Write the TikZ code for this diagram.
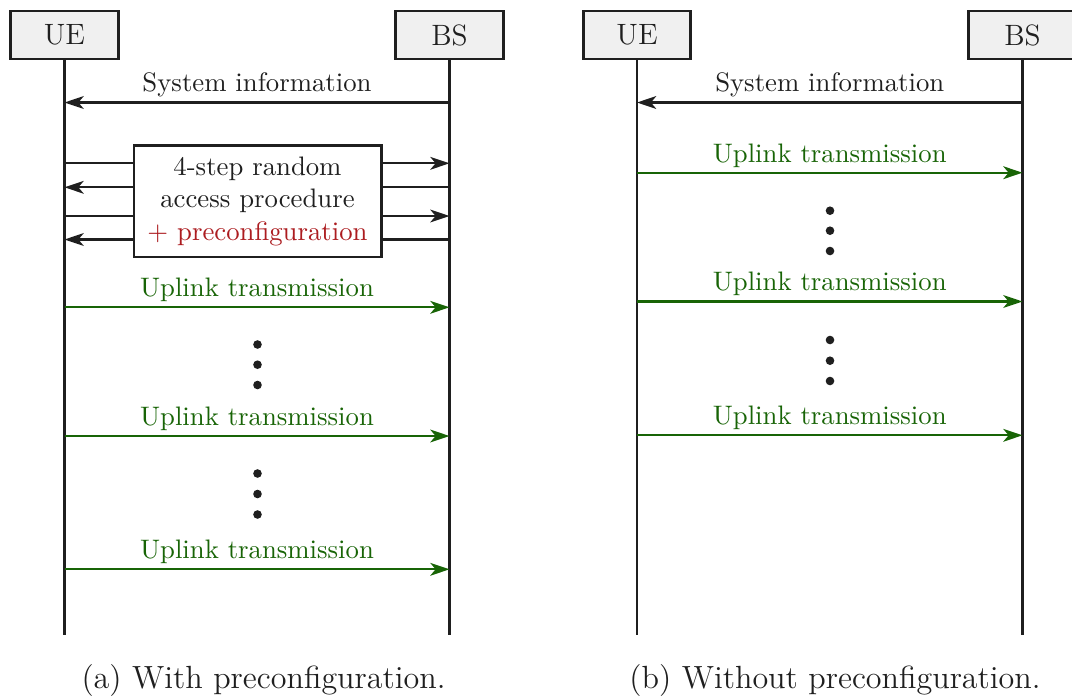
\documentclass[tikz,border=0pt]{standalone}
\usetikzlibrary{arrows.meta}
\definecolor{upgreen}{RGB}{24,100,6}
\definecolor{prered}{RGB}{172,28,32}
\definecolor{hdrfill}{gray}{0.94}
\definecolor{ink}{gray}{0.12}

\begin{document}
\begin{tikzpicture}[x=0.374pt, y=-0.374pt,
  every node/.style={text=ink},
  hdr/.style={draw=ink, line width=1pt, fill=hdrfill, inner sep=0pt,
    minimum width=40.2pt, minimum height=18pt,
    font=\fontsize{11}{13}\selectfont},
  lifeline/.style={draw=ink, line width=0.8pt},
  wire/.style={draw=ink, line width=0.8pt},
  msg/.style={wire, -{Stealth[length=7.2pt, width=4.8pt, inset=2pt]}},
  upmsg/.style={msg, draw=upgreen},
  lbl/.style={midway, anchor=base, yshift=3.95pt, inner sep=0pt,
    font=\fontsize{10}{12}\selectfont},
  uplbl/.style={lbl, text=upgreen},
  procbox/.style={draw=ink, line width=0.9pt, fill=white, align=center,
    minimum width=92.6pt, minimum height=41.7pt, inner sep=0pt,
    font=\fontsize{10}{12.2}\selectfont},
  dot/.style={fill=ink},
  subcaption/.style={anchor=base, inner sep=0pt, font=\fontsize{12}{14}\selectfont}
]
\useasboundingbox (0,0) rectangle (1072,697);

% ---------- (a) with preconfiguration ----------
\node[hdr] (UEa) at (64.5,35) {UE};
\node[hdr] (BSa) at (449.5,35) {BS};
\coordinate (bottom) at (0,635);
\draw[lifeline] (UEa.south) -- (UEa |- bottom);
\draw[lifeline] (BSa.south) -- (BSa |- bottom);

\coordinate (a0) at (0,102.5);
\draw[msg] (BSa |- a0) -- node[lbl] {System information} (UEa |- a0);

\node[procbox] (rap) at (257.5,201.2)
  {4-step random\\access procedure\\\textcolor{prered}{$+$ preconfiguration}};

\coordinate (r1) at (0,163.3);
\coordinate (r2) at (0,187.3);
\coordinate (r3) at (0,216);
\coordinate (r4) at (0,239.5);
\draw[wire] (UEa |- r1) -- (rap.west |- r1);
\draw[msg]  (rap.east |- r1) -- (BSa |- r1);
\draw[wire] (BSa |- r2) -- (rap.east |- r2);
\draw[msg]  (rap.west |- r2) -- (UEa |- r2);
\draw[wire] (UEa |- r3) -- (rap.west |- r3);
\draw[msg]  (rap.east |- r3) -- (BSa |- r3);
\draw[wire] (BSa |- r4) -- (rap.east |- r4);
\draw[msg]  (rap.west |- r4) -- (UEa |- r4);

\coordinate (a1) at (0,307.3);
\coordinate (a2) at (0,436);
\coordinate (a3) at (0,569.3);
\draw[upmsg] (UEa |- a1) -- node[uplbl] {Uplink transmission} (BSa |- a1);
\draw[upmsg] (UEa |- a2) -- node[uplbl] {Uplink transmission} (BSa |- a2);
\draw[upmsg] (UEa |- a3) -- node[uplbl] {Uplink transmission} (BSa |- a3);

\foreach \yy in {344.5,364.7,385,473.5,494,514.5}
  \fill[dot] (257.5,\yy) circle[radius=4.3];

\node[subcaption] (capa) at (263.5,688.3) {(a) With preconfiguration.};

% ---------- (b) without preconfiguration ----------
\node[hdr] (UEb) at (637,35) {UE};
\node[hdr] (BSb) at (1022.5,35) {BS};
\draw[lifeline] (UEb.south) -- (UEb |- bottom);
\draw[lifeline] (BSb.south) -- (BSb |- bottom);

\draw[msg] (BSb |- a0) -- node[lbl] {System information} (UEb |- a0);

\coordinate (b1) at (0,172.7);
\coordinate (b2) at (0,301.5);
\coordinate (b3) at (0,435.3);
\draw[upmsg] (UEb |- b1) -- node[uplbl] {Uplink transmission} (BSb |- b1);
\draw[upmsg] (UEb |- b2) -- node[uplbl] {Uplink transmission} (BSb |- b2);
\draw[upmsg] (UEb |- b3) -- node[uplbl] {Uplink transmission} (BSb |- b3);

\foreach \yy in {210.7,230.7,251,340,360.7,381}
  \fill[dot] (830,\yy) circle[radius=4.3];

\node[subcaption] (capb) at (835,688.3) {(b) Without preconfiguration.};
\end{tikzpicture}
\end{document}
